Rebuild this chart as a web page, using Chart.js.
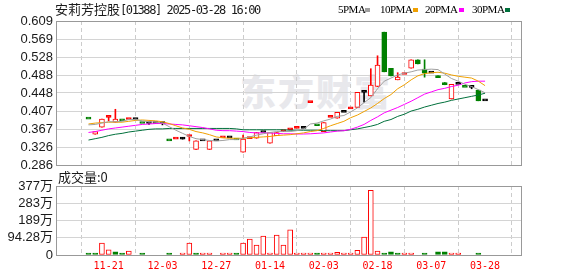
<!DOCTYPE html>
<html>
<head>
<meta charset="utf-8">
<script src="https://cdn.jsdelivr.net/npm/chart.js@4.4.1/dist/chart.umd.min.js"></script>
<style>
body { margin: 0; background: #fff; }
#wrap { position: relative; width: 578px; height: 276px; overflow: hidden; background: #fff; }
#wrap canvas { position: absolute; left: 0; top: 0; }
.t { position: absolute; white-space: nowrap; color: #1a1a1a; }
.cjk { font-family: 'Noto Sans CJK SC', sans-serif; }
.mono { font-family: 'DejaVu Sans Mono', monospace; }
.lg { font: 11px/12px 'Liberation Serif', serif; letter-spacing: -0.5px; top: 3px; color: #000; }
.sq { position: absolute; width: 5px; height: 4px; top: 8px; }
.wm { font: 900 36px/40px 'Noto Sans CJK SC', sans-serif; color: #e8e8ec; letter-spacing: 2px; left: 240px; top: 70px; }
</style>
</head>
<body>
<div id="wrap">
  <div class="t wm">东方财富</div>
  <canvas id="kline" width="578" height="276"></canvas>
  <canvas id="vol" width="578" height="276"></canvas>
  <div class="t cjk" style="left:55px;top:0px;font-size:13px;line-height:18px;">安莉芳控股<span class="mono" style="font-size:12px;letter-spacing:-1.4px;">[01388] 2025-03-28 16:00</span></div>
  <div class="t lg" style="left:338px;">5PMA</div><div class="sq" style="left:365px;background:#a0a0a0;"></div>
  <div class="t lg" style="left:380px;">10PMA</div><div class="sq" style="left:413px;background:#f0a000;"></div>
  <div class="t lg" style="left:425px;">20PMA</div><div class="sq" style="left:459px;background:#ff00ff;"></div>
  <div class="t lg" style="left:472px;">30PMA</div><div class="sq" style="left:505px;background:#00703c;"></div>
  <div class="t cjk" style="left:58px;top:168px;font-size:13px;line-height:18px;">成交量:0</div>
</div>
<script>
// 安莉芳控股 01388 - daily K line with MA and volume

// ==================== DATA ====================
const xTickIdx = [3, 11, 19, 27, 35, 43, 51, 59];
const xTickLabels = ['11-21', '12-03', '12-27', '01-14', '02-03', '02-18', '03-07', '03-28'];
const yTickLabels = ['0.286', '0.326', '0.367', '0.407', '0.448', '0.488', '0.528', '0.569', '0.609'];
const volTickLabels = ['0', '94.28万', '189万', '283万', '377万'];
const priceMin = 0.286, priceMax = 0.609, volMax = 377.12;
const firstPrevClose = 0.392;

const open = [.389,.355,.371,.393,.382,.385,.388,.388,.379,.379, .379,.379,.340,.344,.344,.350,.321,.340,.321,.340,
  .347,.347,.342,.315,.345,.346,.359,.335,.352,.361, .365,.368,.368,.426,.374,.361,.393,.391,.404,.412,
  .415,.449,.441,.462,.584,.503,.477,.489,.503,.522, .501,.492,.482,.471,.434,.467,.460,.460,.454,.430];
const high = [.389,.361,.389,.393,.411,.385,.388,.388,.379,.379, .379,.379,.340,.344,.348,.350,.340,.340,.340,.340,
  .347,.347,.342,.353,.345,.359,.359,.359,.359,.361, .365,.368,.368,.426,.374,.381,.393,.404,.404,.412,
  .449,.449,.502,.531,.584,.503,.493,.489,.522,.522, .522,.492,.486,.471,.467,.467,.460,.460,.454,.430];
const low = [.389,.355,.371,.385,.382,.385,.388,.388,.379,.377, .379,.376,.340,.344,.344,.340,.321,.340,.321,.340,
  .347,.347,.342,.315,.345,.346,.359,.335,.352,.361, .365,.368,.368,.426,.374,.361,.393,.391,.404,.412,
  .415,.427,.441,.462,.495,.486,.477,.489,.503,.513, .483,.492,.482,.466,.434,.467,.460,.457,.430,.430];
const close = [.389,.361,.389,.393,.389,.385,.388,.388,.379,.379, .379,.379,.340,.344,.344,.350,.340,.340,.340,.340,
  .347,.347,.342,.344,.345,.359,.359,.359,.359,.361, .365,.368,.368,.426,.374,.381,.393,.404,.404,.412,
  .449,.449,.465,.510,.495,.486,.483,.489,.522,.513, .492,.492,.482,.466,.467,.467,.460,.460,.430,.430];
// volume in 万
const volume = [3,3,65,28,17,3,22,0,3,0, 0,0,3,0,3,65,3,3,3,0,
  3,3,3,65,87,54,104,3,109,54, 137,3,3,3,3,3,3,15,3,3,
  26,98,353,22,3,17,3,3,3,0, 3,0,17,17,3,3,0,0,3,0];

const ma5 = [.376,.377,.380,.383,.383,.384,.388,.388,.385,.383, .382,.380,.372,.364,.357,.350,.345,.343,.341,.340,
  .341,.343,.343,.346,.349,.353,.356,.359,.361,.361, .361,.363,.366,.378,.380,.385,.389,.395,.397,.405,
  .414,.426,.437,.457,.474,.481,.488,.492,.495,.499, .500,.501,.500,.490,.480,.474,.467,.462,.455,.448];
const ma10 = [.378,.380,.381,.382,.382,.382,.384,.386,.387,.386, .385,.383,.379,.374,.369,.366,.361,.358,.354,.349,
  .347,.346,.346,.346,.347,.348,.349,.350,.352,.353, .354,.356,.358,.361,.363,.368,.374,.379,.384,.392,
  .398,.406,.414,.424,.435,.444,.457,.466,.477,.486, .491,.493,.494,.492,.488,.485,.483,.481,.474,.464];
const ma20 = [.359,.361,.364,.367,.369,.371,.373,.375,.377,.378, .379,.379,.378,.377,.376,.374,.372,.370,.367,.364,
  .363,.363,.362,.361,.359,.358,.358,.358,.357,.356, .356,.3555,.3555,.356,.357,.358,.360,.362,.363,.366,
  .371,.377,.386,.394,.403,.409,.415,.422,.429,.437, .445,.450,.455,.458,.462,.465,.470,.473,.474,.474];
const ma30 = [.342,.345,.348,.352,.355,.357,.360,.362,.364,.366, .367,.367,.368,.368,.368,.368,.368,.368,.368,.368,
  .368,.368,.367,.365,.365,.365,.365,.365,.365,.365, .364,.364,.364,.364,.364,.363,.363,.363,.363,.365,
  .367,.370,.373,.377,.384,.388,.395,.400,.407,.411, .416,.420,.424,.427,.431,.434,.437,.440,.443,.447];

// ==================== STYLE ====================
const RED = '#ff0000', GREEN = '#008000', BLACK = '#000000';
const FONT = "'Liberation Sans', 'Noto Sans CJK SC', sans-serif";
Chart.defaults.font.family = FONT;

function prevClose(i) { return i ? close[i - 1] : firstPrevClose; }
function candleColor(i) {
    if (close[i] > open[i]) return RED;
    if (close[i] < open[i]) return GREEN;
    const p = prevClose(i);
    return close[i] > p ? RED : (close[i] < p ? GREEN : BLACK);
}
const cColors = close.map((c, i) => candleColor(i));
const cFill = close.map((c, i) => close[i] > open[i] ? '#ffffff' : cColors[i]);
const vUp = close.map((c, i) => c >= prevClose(i));
const idx = c => (c.raw ? c.raw.x : c.dataIndex);

const boxPlugin = {
    id: 'box',
    afterDatasetsDraw(chart) {
        const a = chart.chartArea, ctx = chart.ctx;
        ctx.save();
        ctx.strokeStyle = '#999';
        ctx.lineWidth = 1;
        ctx.strokeRect(Math.round(a.left) + 0.5, Math.round(a.top) + 0.5,
            Math.round(a.right - a.left) - 1, Math.round(a.bottom - a.top));
        ctx.restore();
    }
};

function maLine(data, color) {
    return {
        type: 'line', data: data.map((v, i) => ({ x: i, y: v })),
        borderColor: color, borderWidth: 1, pointRadius: 0, tension: 0, order: 0
    };
}

const xBase = {
    type: 'linear', min: -0.5, max: 60.16,
    afterBuildTicks: s => { s.ticks = xTickIdx.map(v => ({ value: v })); },
    grid: { color: '#cccccc', drawTicks: false },
    border: { display: false, dash: [4, 3] }
};

// ==================== K LINE ====================
new Chart(document.getElementById('kline'), {
    type: 'bar',
    data: {
        datasets: [
            maLine(ma5, '#a0a0a0'),
            maLine(ma10, '#f0a000'),
            maLine(ma20, '#ff00ff'),
            maLine(ma30, '#00703c'),
            {
                data: open.map((o, i) => ({ x: i, y: [o, close[i]] })),
                backgroundColor: c => cFill[idx(c)], borderColor: c => cColors[idx(c)],
                borderWidth: 1, borderSkipped: false,
                barThickness: 5, minBarLength: 2, grouped: false, order: 1
            },
            {
                data: low.map((l, i) => ({ x: i, y: [l, high[i]] })).filter(p => p.y[1] > p.y[0]),
                backgroundColor: c => cColors[idx(c)], borderWidth: 0, barThickness: 1, grouped: false, order: 2
            }
        ]
    },
    options: {
        responsive: false, animation: false, events: [],
        layout: { padding: { top: 21, bottom: 111, left: 0, right: 56 } },
        plugins: { legend: { display: false }, tooltip: { enabled: false } },
        scales: {
            x: Object.assign({}, xBase, { afterFit: s => { s.height = 0; }, ticks: { display: false, autoSkip: false } }),
            y: {
                min: priceMin, max: priceMax,
                afterBuildTicks: s => {
                    const n = yTickLabels.length - 1;
                    s.ticks = yTickLabels.map((t, i) => ({ value: priceMin + i * (priceMax - priceMin) / n }));
                },
                afterFit: s => { s.width = 56; },
                ticks: { padding: 3, autoSkip: false, color: '#1a1a1a', font: { size: 13 }, callback: (v, i) => yTickLabels[i] },
                grid: { color: '#d4d4d4', drawTicks: false },
                border: { display: false }
            }
        }
    },
    plugins: [boxPlugin]
});

// ==================== VOLUME ====================
new Chart(document.getElementById('vol'), {
    type: 'bar',
    data: {
        datasets: [{
            data: volume.map((v, i) => ({ x: i, y: v })).filter(p => p.y > 0),
            backgroundColor: c => vUp[idx(c)] ? '#ffffff' : GREEN,
            borderColor: c => vUp[idx(c)] ? RED : GREEN,
            borderWidth: 1, borderSkipped: false, barThickness: 5, minBarLength: 2, grouped: false
        }]
    },
    options: {
        responsive: false, animation: false, events: [],
        layout: { padding: { top: 186, bottom: 0, left: 0, right: 56 } },
        plugins: { legend: { display: false }, tooltip: { enabled: false } },
        scales: {
            x: Object.assign({}, xBase, {
                afterFit: s => { s.height = 21; },
                ticks: { padding: 5, autoSkip: false, color: RED, maxRotation: 0,
                    font: { family: "'DejaVu Sans Mono', monospace", size: 10 },
                    callback: (v, i) => xTickLabels[i] }
            }),
            y: {
                min: 0, max: volMax,
                afterBuildTicks: s => {
                    const n = volTickLabels.length - 1;
                    s.ticks = volTickLabels.map((t, i) => ({ value: i * volMax / n }));
                },
                afterFit: s => { s.width = 56; },
                ticks: { padding: 3, autoSkip: false, color: '#1a1a1a', font: { size: 13 }, callback: (v, i) => volTickLabels[i] },
                grid: { color: '#d4d4d4', drawTicks: false },
                border: { display: false }
            }
        }
    },
    plugins: [boxPlugin]
});
</script>
</body>
</html>
